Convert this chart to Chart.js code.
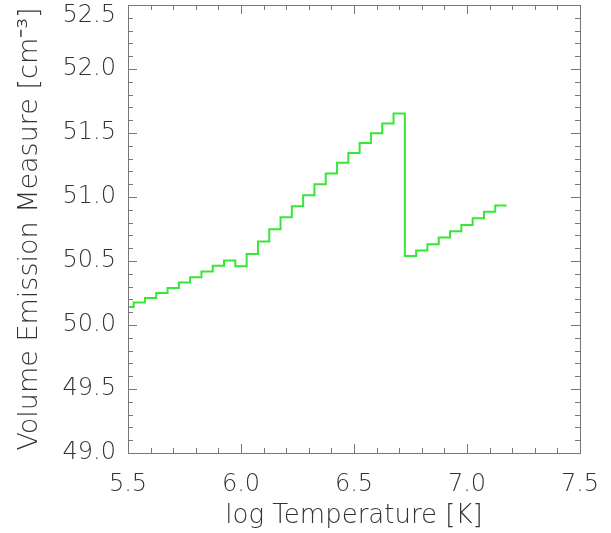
<!DOCTYPE html>
<html>
<head>
<meta charset="utf-8">
<script src="https://cdn.jsdelivr.net/npm/chart.js@4"></script>
<style>
  html, body { margin: 0; padding: 0; background: #fff; }
  #wrap { width: 611px; height: 533px; }
</style>
</head>
<body>
<div id="wrap"><canvas id="vem"></canvas></div>
<script>
// bin centres (log T) and volume emission measure per bin
const logT = [5.50, 5.55, 5.60, 5.65, 5.70, 5.75, 5.80, 5.85, 5.90, 5.95,
              6.00, 6.05, 6.10, 6.15, 6.20, 6.25, 6.30, 6.35, 6.40, 6.45,
              6.50, 6.55, 6.60, 6.65, 6.70, 6.75, 6.80, 6.85, 6.90, 6.95,
              7.00, 7.05, 7.10, 7.15];
const emValues = [50.14, 50.175, 50.21, 50.25, 50.29, 50.332, 50.373, 50.418, 50.462, 50.504,
                  50.459, 50.555, 50.652, 50.749, 50.842, 50.928, 51.014, 51.10, 51.184, 51.267,
                  51.343, 51.421, 51.499, 51.575, 51.653, 50.54, 50.582, 50.631, 50.684, 50.733,
                  50.782, 50.834, 50.884, 50.934];
const binWidth = 0.05;
const xTickValues = [5.5, 6.0, 6.5, 7.0, 7.5];
const yTickValues = [49.0, 49.5, 50.0, 50.5, 51.0, 51.5, 52.0, 52.5];

const points = logT.map((t, i) => ({ x: t, y: emValues[i] }));
// close the last histogram bin at its right edge
points.push({ x: logT[logT.length - 1] + binWidth / 2, y: emValues[emValues.length - 1] });

const FONT = "'DejaVu Sans', sans-serif";
const TEXT = "#333";
const AXIS = "#777";

// IDL-style box with inward major/minor ticks on all four sides
const boxTicks = {
    id: "boxTicks",
    afterDraw(chart) {
        const { ctx, chartArea: a, scales: { x, y } } = chart;
        ctx.save();
        ctx.strokeStyle = AXIS;
        ctx.lineWidth = 1;
        ctx.strokeRect(a.left + 0.5, a.top + 0.5, a.right - a.left, a.bottom - a.top);
        ctx.beginPath();
        for (let i = 0; i <= Math.round((x.max - x.min) / 0.1); i++) {
            const v = x.min + i * 0.1;
            const px = Math.round(x.getPixelForValue(v)) + 0.5;
            const len = (i % 5 === 0) ? 9 : 5;
            ctx.moveTo(px, a.bottom); ctx.lineTo(px, a.bottom - len);
            ctx.moveTo(px, a.top); ctx.lineTo(px, a.top + len);
        }
        for (let i = 0; i <= Math.round((y.max - y.min) / 0.1); i++) {
            const v = y.min + i * 0.1;
            const py = Math.round(y.getPixelForValue(v)) + 0.5;
            const len = (i % 5 === 0) ? 9 : 5;
            ctx.moveTo(a.left, py); ctx.lineTo(a.left + len, py);
            ctx.moveTo(a.right, py); ctx.lineTo(a.right - len, py);
        }
        ctx.stroke();
        ctx.restore();
    }
};

const yMax = yTickValues[yTickValues.length - 1];

new Chart(document.getElementById("vem").getContext("2d"), {
    type: "line",
    data: {
        datasets: [{
            data: points,
            stepped: "middle",
            borderColor: "rgb(55, 230, 55)",
            borderWidth: 2,
            pointRadius: 0,
            fill: false
        }]
    },
    options: {
        responsive: true,
        maintainAspectRatio: false,
        animation: false,
        layout: { padding: { top: 5, right: 31, left: 0, bottom: 0 } },
        plugins: {
            legend: { display: false },
            tooltip: { enabled: false }
        },
        scales: {
            x: {
                type: "linear",
                min: 5.5,
                max: 7.5,
                afterBuildTicks: (s) => { s.ticks = xTickValues.map(v => ({ value: v })); },
                afterFit: (s) => { s.height = 80; s.paddingLeft = 0; s.paddingRight = 0; },
                grid: { display: false, drawTicks: false },
                border: { display: false },
                ticks: {
                    color: TEXT,
                    padding: 17,
                    maxRotation: 0,
                    font: { family: FONT, size: 24, weight: 200 },
                    callback: (v) => Number(v).toFixed(1)
                },
                title: {
                    display: true,
                    text: "log Temperature [K]",
                    color: TEXT,
                    padding: { top: 0, bottom: 1 },
                    font: { family: FONT, size: 26, weight: 200 }
                }
            },
            y: {
                type: "linear",
                min: 49.0,
                max: 52.5,
                afterBuildTicks: (s) => { s.ticks = yTickValues.map(v => ({ value: v })); },
                afterFit: (s) => { s.width = 128; s.paddingTop = 0; s.paddingBottom = 0; },
                grid: { display: false, drawTicks: false },
                border: { display: false },
                ticks: {
                    color: TEXT,
                    padding: 12,
                    font: { family: FONT, size: 24, weight: 200, lineHeight: 0.92 },
                    // top label sits just below the frame, as in the original plot
                    callback: (v) => v === yMax ? ["", Number(v).toFixed(1)] : Number(v).toFixed(1)
                },
                title: {
                    display: true,
                    text: "Volume Emission Measure [cm\u207B\u00B3]",
                    color: TEXT,
                    padding: { top: 14, bottom: 0 },
                    font: { family: FONT, size: 27, weight: 200 }
                }
            }
        }
    },
    plugins: [boxTicks]
});
</script>
</body>
</html>
